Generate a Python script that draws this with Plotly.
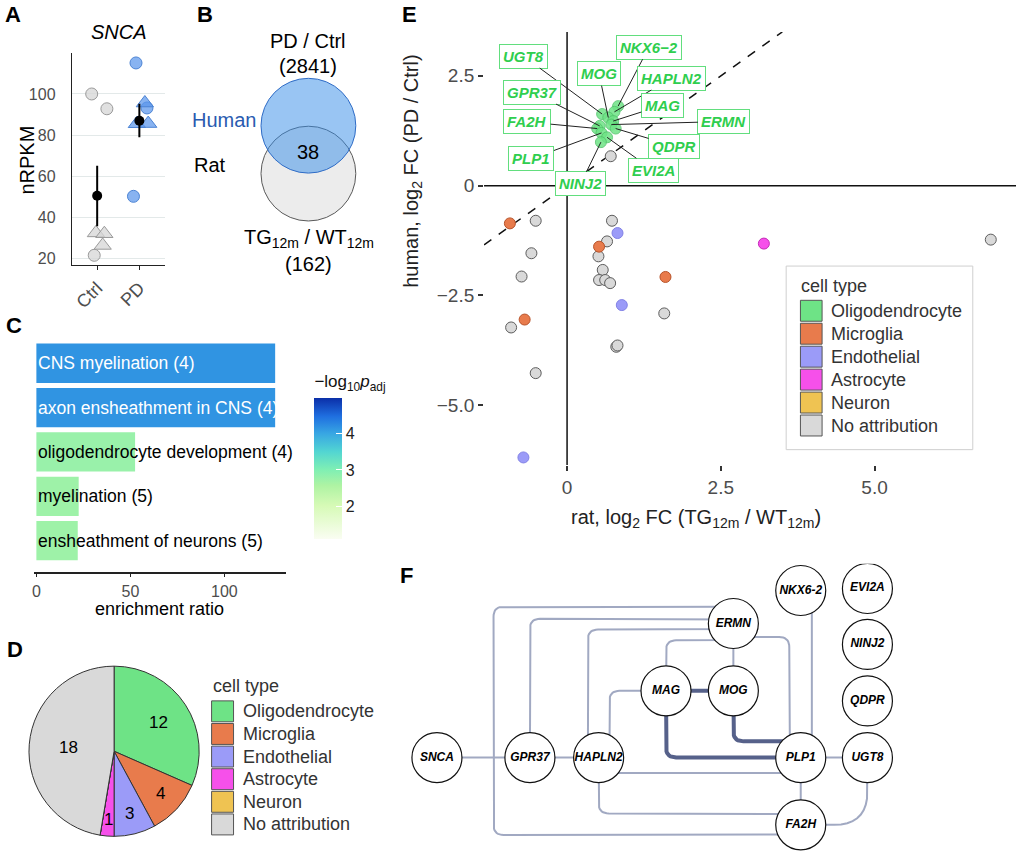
import numpy as np
import plotly.graph_objects as go

W, H = 1020, 857
FONT = "Liberation Sans, Arial, Helvetica, sans-serif"


def fx(p):
    return p / W


def fy(p):
    return 1 - p / H


# ====================== DATA ======================
# --- Panel A: SNCA expression (nRPKM)
a_groups = ["Ctrl", "PD"]
ctrl_circle_y = [100.0, 92.8, 21.5]
ctrl_circle_jit = [-0.13, 0.23, -0.07]
ctrl_tri_y = [32.4, 32.0, 26.3]
ctrl_tri_jit = [-0.03, 0.17, 0.13]
pd_circle_y = [115.1, 93.2, 50.2]
pd_circle_jit = [-0.08, 0.18, -0.14]
pd_tri_y = [95.6, 85.5, 85.6]
pd_tri_jit = [0.13, -0.06, 0.21]
a_mean = [50.5, 87.0]
a_lo = [35.6, 78.9]
a_hi = [65.1, 95.3]
a_ticks = [20, 40, 60, 80, 100]

# --- Panel B: Venn counts
venn_human = 2841
venn_rat = 162
venn_overlap = 38

# --- Panel C: GO enrichment
go_terms = ["CNS myelination", "axon ensheathment in CNS",
            "oligodendrocyte development", "myelination",
            "ensheathment of neurons"]
go_counts = [4, 4, 4, 5, 5]
go_ratio = [127.0, 127.0, 52.5, 22.5, 22.0]
go_neglogp = [4.15, 4.15, 2.75, 2.7, 2.7]
c_ticks = [0, 50, 100]
cbar_ticks = [2, 3, 4]

# --- Panel D / E: cell types
cell_types = ["Oligodendrocyte", "Microglia", "Endothelial", "Astrocyte",
              "Neuron", "No attribution"]
cell_colors = ["#6ee386", "#e87b4c", "#9b9bf8", "#f650ea", "#efc352", "#d9d9d9"]
cell_counts = [12, 4, 3, 1, 0, 18]
pie_label_r = [0.62, 0.74, 0.75, 0.81, 0.7, 0.54]   # radial label placement (layout)

# --- Panel E: log2 fold changes (rat x, human y)
oligo_genes = ["NKX6\u22122", "HAPLN2", "UGT8", "MOG", "MAG", "ERMN", "GPR37",
               "FA2H", "QDPR", "PLP1", "EVI2A", "NINJ2"]
oligo_x = [0.83, 0.77, 0.57, 0.67, 0.75, 0.72, 0.53, 0.49, 0.79, 0.56, 0.65, 0.55]
oligo_y = [1.81, 1.68, 1.63, 1.55, 1.47, 1.39, 1.36, 1.30, 1.30, 1.20, 1.10, 0.99]
micro_x = [-0.93, 0.52, 1.60, -0.69]
micro_y = [-0.86, -1.39, -2.08, -3.05]
endo_x = [0.82, 0.89, -0.71]
endo_y = [-1.08, -2.72, -6.19]
astro_x = [3.20]
astro_y = [-1.32]
noattr_x = [0.71, 0.73, -0.51, 0.65, -0.58, 0.51, -0.74, 0.58, 0.52, 0.62,
            0.70, 1.58, -0.91, 0.80, 0.82, -0.51, 6.89]
noattr_y = [0.67, -0.80, -0.80, -1.27, -1.54, -1.61, -2.07, -1.92, -2.15, -2.15,
            -2.22, -2.91, -3.23, -3.67, -3.64, -4.27, -1.23]
e_xticks = [0, 2.5, 5.0]
e_xticktext = ["0", "2.5", "5.0"]
e_yticks = [-5.0, -2.5, 0, 2.5]
e_yticktext = ["\u22125.0", "\u22122.5", "0", "2.5"]

# label placement (repelled label positions, layout only)
label_x = [1.33, 1.70, -0.71, 0.52, 1.55, 2.55, -0.57, -0.65, 1.74, -0.58, 1.40, 0.22]
label_y = [3.15, 2.45, 2.95, 2.55, 1.83, 1.46, 2.13, 1.45, 0.90, 0.61, 0.35, 0.04]

# --- Panel F: interaction network
node_names = ["SNCA", "GPR37", "HAPLN2", "MAG", "MOG", "ERMN", "PLP1", "UGT8",
              "FA2H", "NKX6-2", "EVI2A", "NINJ2", "QDPR"]
node_x = [0, 1.38, 2.40, 3.40, 4.40, 4.40, 5.40, 6.39, 5.40, 5.40, 6.39, 6.39, 6.39]
node_y = [0, 0, 0, 0.99, 0.99, 1.99, 0, 0, -1.0, 2.48, 2.51, 1.68, 0.84]
edges = [("SNCA", "GPR37", 0), ("GPR37", "HAPLN2", 0), ("PLP1", "UGT8", 0),
         ("MAG", "MOG", 1), ("ERMN", "MOG", 0), ("PLP1", "FA2H", 0),
         ("NKX6-2", "PLP1", 0), ("ERMN", "FA2H", 0), ("GPR37", "ERMN", 0),
         ("HAPLN2", "ERMN", 0), ("ERMN", "PLP1", 0), ("MAG", "ERMN", 0),
         ("HAPLN2", "MAG", 0), ("MAG", "PLP1", 1), ("MOG", "PLP1", 1),
         ("HAPLN2", "PLP1", 0), ("HAPLN2", "FA2H", 0), ("UGT8", "FA2H", 0)]
# orthogonal edge routing (layout)
edge_routes = {
    ("NKX6-2", "PLP1"): [(5.565, 2.48), (5.565, 0)],
    ("ERMN", "FA2H"): ["ERMN", (4.4, 2.24), (0.84, 2.24), (0.84, -1.15), (5.4, -1.15), "FA2H"],
    ("GPR37", "ERMN"): ["GPR37", (1.38, 2.06), (4.4, 2.06), "ERMN"],
    ("HAPLN2", "ERMN"): [(2.24, 0), (2.24, 1.90), (4.4, 1.90), "ERMN"],
    ("ERMN", "PLP1"): ["ERMN", (4.4, 1.79), (5.23, 1.79), (5.23, 0), "PLP1"],
    ("MAG", "ERMN"): ["MAG", (3.4, 1.74), (4.4, 1.74), "ERMN"],
    ("HAPLN2", "MAG"): [(2.56, 0), (2.56, 0.99), "MAG"],
    ("MAG", "PLP1"): ["MAG", (3.4, 0), "PLP1"],
    ("MOG", "PLP1"): ["MOG", (4.4, 0.24), (5.4, 0.24), "PLP1"],
    ("HAPLN2", "PLP1"): [(2.4, -0.23), (5.4, -0.23)],
    ("HAPLN2", "FA2H"): ["HAPLN2", (2.4, -0.83), (5.4, -0.83), "FA2H"],
    ("UGT8", "FA2H"): ["UGT8", (6.39, -1.0), "FA2H"],
}

# ====================== FIGURE ======================
fig = go.Figure()
shapes = []
annots = []


def ann(text, x, y, size, color="black", xanchor="center", yanchor="middle", angle=0, **kw):
    d = dict(text=text, x=fx(x), y=fy(y), xref="paper", yref="paper", showarrow=False,
             xanchor=xanchor, yanchor=yanchor, textangle=angle,
             font=dict(size=size, color=color, family=FONT))
    d.update(kw)
    annots.append(d)


# ---------------- Panel A ----------------
a_fill = ["rgba(214,214,214,0.75)", "rgba(90,150,235,0.72)"]
a_edge = ["#9a9a9a", "#4d84d4"]
sets = [(ctrl_circle_y, ctrl_circle_jit, ctrl_tri_y, ctrl_tri_jit),
        (pd_circle_y, pd_circle_jit, pd_tri_y, pd_tri_jit)]
for gi, (cy, cj, ty, tj) in enumerate(sets):
    base = gi + 1
    fig.add_trace(go.Scatter(x=[base + j for j in cj], y=cy, mode="markers",
                             marker=dict(symbol="circle", size=12, color=a_fill[gi],
                                         line=dict(color=a_edge[gi], width=1)),
                             xaxis="x", yaxis="y", showlegend=False, hoverinfo="skip"))
    fig.add_trace(go.Scatter(x=[base + j for j in tj], y=ty, mode="markers",
                             marker=dict(symbol="triangle-up", size=15, color=a_fill[gi],
                                         line=dict(color=a_edge[gi], width=1)),
                             xaxis="x", yaxis="y", showlegend=False, hoverinfo="skip"))
fig.add_trace(go.Scatter(x=[1, 2], y=a_mean, mode="markers",
                         marker=dict(color="black", size=10),
                         error_y=dict(type="data", symmetric=False,
                                      array=[h - m for h, m in zip(a_hi, a_mean)],
                                      arrayminus=[m - l for m, l in zip(a_mean, a_lo)],
                                      color="black", thickness=2, width=0),
                         xaxis="x", yaxis="y", showlegend=False, hoverinfo="skip"))
ann("<i>SNCA</i>", 117, 32, 20)
ann("nRPKM", 25, 160, 20, angle=-90)

# ---------------- Panel B ----------------
r = 47.5
for (cx, cy, fill, line) in [(307, 174, "#ececec", "#5a5a5a"),
                             (307, 126, "rgba(51,139,231,0.5)", "#2f6cc6")]:
    shapes.append(dict(type="circle", xref="paper", yref="paper",
                       x0=fx(cx - r), x1=fx(cx + r), y0=fy(cy + r), y1=fy(cy - r),
                       fillcolor=fill, line=dict(color=line, width=1)))
ann("PD / Ctrl", 307, 41, 20)
ann(f"({venn_human})", 307, 66, 20)
ann("Human", 222, 120, 20, color="#2a5bb0")
ann("Rat", 208, 165, 20)
ann(str(venn_overlap), 307, 152, 20)
ann("TG<sub>12m</sub> / WT<sub>12m</sub>", 308, 239, 20)
ann(f"({venn_rat})", 307, 265, 20)

# ---------------- Panel C ----------------
cscale = [[0.0, "#fafdf2"], [0.238, "#d6fab6"], [0.38, "#aef3a3"], [0.494, "#7eefb4"],
          [0.62, "#52d5d2"], [0.749, "#38a6e3"], [0.87, "#1f6fe0"], [1.0, "#0b2fa8"]]
n_terms = len(go_terms)
c_pos = [n_terms - i for i in range(n_terms)]
fig.add_trace(go.Bar(x=go_ratio, y=c_pos, orientation="h", width=0.886,
                     marker=dict(color=go_neglogp, colorscale=cscale, cmin=1.07, cmax=4.98,
                                 line=dict(width=0), showscale=True,
                                 colorbar=dict(x=fx(313), xanchor="left", xpad=0, ypad=0,
                                               y=fy(541), yanchor="bottom",
                                               len=168 / H, lenmode="fraction",
                                               thickness=28, thicknessmode="pixels",
                                               outlinewidth=0, tickvals=cbar_ticks,
                                               ticks="inside", ticklen=6, tickcolor="white",
                                               tickfont=dict(size=16, color="#222", family=FONT),
                                               title=dict(text="\u2212log<sub>10</sub><i>p</i><sub>adj</sub>",
                                                          side="top",
                                                          font=dict(size=17, color="#111", family=FONT)))),
                     xaxis="x2", yaxis="y2", showlegend=False, hoverinfo="skip"))
for term, cnt, pos, p in zip(go_terms, go_counts, c_pos, go_neglogp):
    annots.append(dict(text=f"{term} ({cnt})", x=0, y=pos, xref="x2", yref="y2",
                       xanchor="left", yanchor="middle", showarrow=False,
                       font=dict(size=17.5, color="white" if p > 3.5 else "black", family=FONT)))
ann("enrichment ratio", 158, 610, 18)

# ---------------- Panel D ----------------
pie_cx, pie_cy, pie_r = 112.3, 753, 85.3
fig.add_trace(go.Pie(values=cell_counts, labels=cell_types, sort=False,
                     direction="clockwise", rotation=0,
                     marker=dict(colors=cell_colors, line=dict(color="#333", width=1)),
                     textinfo="none",
                     domain=dict(x=[fx(pie_cx - pie_r), fx(pie_cx + pie_r)],
                                 y=[fy(pie_cy + pie_r), fy(pie_cy - pie_r)]),
                     showlegend=False, hoverinfo="skip"))
total = sum(cell_counts)
cum = 0
for cnt, rf in zip(cell_counts, pie_label_r):
    if cnt > 0:
        mid = (cum + cnt / 2) / total * 2 * np.pi
        ann(str(cnt), pie_cx + rf * pie_r * np.sin(mid), pie_cy - rf * pie_r * np.cos(mid), 17)
    cum += cnt


def cell_legend(x_key, y_title, y_first, pitch, key_w, key_h, x_text):
    ann("cell type", x_key - 1, y_title, 18, color="#333", xanchor="left")
    for i, (name, col) in enumerate(zip(cell_types, cell_colors)):
        yc = y_first + i * pitch
        shapes.append(dict(type="rect", xref="paper", yref="paper",
                           x0=fx(x_key), x1=fx(x_key + key_w),
                           y0=fy(yc + key_h / 2), y1=fy(yc - key_h / 2),
                           fillcolor=col, line=dict(color="#555", width=1)))
        ann(name, x_text - 1, yc, 18, color="#333", xanchor="left")


cell_legend(210, 688, 713, 22.67, 22, 21, 240)

# ---------------- Panel E ----------------
e_xr = [-1.35, 7.3]
e_yr = [-6.36, 3.5]
shapes.append(dict(type="line", xref="x3 domain", yref="y3", x0=0, x1=1, y0=0, y1=0,
                   line=dict(color="#111", width=1.5), layer="below"))
shapes.append(dict(type="line", xref="x3", yref="y3 domain", x0=0, x1=0, y0=0, y1=1,
                   line=dict(color="#111", width=1.5), layer="below"))
d_lo = max(e_xr[0], e_yr[0])
d_hi = min(e_xr[1], e_yr[1])
shapes.append(dict(type="line", xref="x3", yref="y3", x0=d_lo, x1=d_hi, y0=d_lo, y1=d_hi,
                   line=dict(color="#111", width=1.5, dash="dash"), layer="below"))

e_series = [(noattr_x, noattr_y, cell_colors[5], "#5d5d5d", 1.0),
            (micro_x, micro_y, cell_colors[1], "#b8532a", 1.0),
            (endo_x, endo_y, cell_colors[2], "#8282e6", 1.0),
            (astro_x, astro_y, cell_colors[3], "#c52bb8", 1.0),
            (oligo_x, oligo_y, cell_colors[0], "#52c46b", 0.85)]
for xs, ys, fc, lc, op in e_series:
    fig.add_trace(go.Scatter(x=xs, y=ys, mode="markers",
                             marker=dict(size=11, color=fc, opacity=op,
                                         line=dict(color=lc, width=1)),
                             xaxis="x3", yaxis="y3", showlegend=False, hoverinfo="skip"))
for g, gx, gy, lx, ly in zip(oligo_genes, oligo_x, oligo_y, label_x, label_y):
    annots.append(dict(text=f"<b><i>{g}</i></b>", x=gx, y=gy, xref="x3", yref="y3",
                       ax=lx, ay=ly, axref="x3", ayref="y3", showarrow=True,
                       arrowhead=0, arrowwidth=1, arrowcolor="#222", standoff=0,
                       bgcolor="white", bordercolor="#62de7e", borderwidth=1, borderpad=3,
                       font=dict(size=15, color="#2fce4e", family=FONT)))
ann("human, log<sub>2</sub> FC (PD / Ctrl)", 411, 172, 20, color="#222", angle=-90)
ann("rat, log<sub>2</sub> FC (TG<sub>12m</sub> / WT<sub>12m</sub>)", 695, 520, 20, color="#222")
shapes.append(dict(type="rect", xref="paper", yref="paper",
                   x0=fx(785.7), x1=fx(972.7), y0=fy(450.7), y1=fy(266.7),
                   fillcolor="white", line=dict(color="#cfcfcf", width=1)))
cell_legend(800, 287, 311.5, 23, 21.7, 21, 830)

# ---------------- Panel F ----------------
F_UNIT = 67.5
F_ORIGIN = (435.8, 759.3)
f_xr = [(400 - F_ORIGIN[0]) / F_UNIT, (1020 - F_ORIGIN[0]) / F_UNIT]
f_yr = [(F_ORIGIN[1] - 857) / F_UNIT, (F_ORIGIN[1] - 565) / F_UNIT]
node_pos = {n: (x, y) for n, x, y in zip(node_names, node_x, node_y)}


def rounded(points, rad):
    pts = [np.array(p, dtype=float) for p in points]
    out = [pts[0]]
    for i in range(1, len(pts) - 1):
        p0, p1, p2 = pts[i - 1], pts[i], pts[i + 1]
        l1 = np.linalg.norm(p1 - p0)
        l2 = np.linalg.norm(p2 - p1)
        if l1 < 1e-9 or l2 < 1e-9:
            out.append(p1)
            continue
        d1 = (p1 - p0) / l1
        d2 = (p2 - p1) / l2
        rr = min(rad, l1 / 2, l2 / 2)
        a = p1 - d1 * rr
        b = p1 + d2 * rr
        for t in np.linspace(0, 1, 10):
            out.append((1 - t) ** 2 * a + 2 * (1 - t) * t * p1 + t ** 2 * b)
    out.append(pts[-1])
    return [p[0] for p in out], [p[1] for p in out]


for a, b, strong in edges:
    route = edge_routes.get((a, b), [a, b])
    pts = [node_pos[p] if isinstance(p, str) else p for p in route]
    rad = 0.5 if (a, b) == ("UGT8", "FA2H") else 0.15
    ex, ey = rounded(pts, rad)
    fig.add_trace(go.Scatter(x=ex, y=ey, mode="lines",
                             line=dict(color="#56618a" if strong else "#a1a9c2",
                                       width=4 if strong else 2),
                             xaxis="x4", yaxis="y4", showlegend=False, hoverinfo="skip"))
fig.add_trace(go.Scatter(x=node_x, y=node_y, mode="markers+text",
                         text=[f"<b><i>{n}</i></b>" for n in node_names],
                         textposition="middle center",
                         textfont=dict(size=12, color="black", family=FONT),
                         marker=dict(size=50, color="white", line=dict(color="#111", width=1.2)),
                         xaxis="x4", yaxis="y4", showlegend=False, hoverinfo="skip"))

# ---------------- panel letters ----------------
for letter, x, y in [("A", 11, 15), ("B", 203, 15), ("C", 12, 326), ("D", 13, 651),
                     ("E", 408, 15), ("F", 405, 577)]:
    ann(f"<b>{letter}</b>", x, y, 22)

# ---------------- layout ----------------
tickfont = lambda s: dict(size=s, color="#4d4d4d", family=FONT)
fig.update_layout(
    width=W, height=H, margin=dict(l=0, r=0, t=0, b=0),
    paper_bgcolor="white", plot_bgcolor="white",
    font=dict(family=FONT, color="black"),
    showlegend=False,
    xaxis=dict(domain=[fx(70), fx(163)], range=[0.4, 2.6], tickvals=[1, 2], ticktext=a_groups,
               tickangle=-45, ticks="outside", ticklen=4, tickcolor="#222",
               showline=True, linecolor="#222", linewidth=1.2, showgrid=False,
               zeroline=False, tickfont=tickfont(18), anchor="y", fixedrange=True),
    yaxis=dict(domain=[fy(266), fy(53)], range=[16.6, 120], tickvals=a_ticks,
               showgrid=True, gridcolor="#e3e9e9", gridwidth=1, showline=True,
               linecolor="#222", linewidth=1.2, ticks="", ticklabelstandoff=12,
               zeroline=False, tickfont=tickfont(16), anchor="x"),
    xaxis2=dict(domain=[fx(32), fx(285)], range=[-1.3, 133], tickvals=c_ticks,
                ticks="outside", ticklen=4, tickcolor="#222", showline=True,
                linecolor="#222", linewidth=1.5, showgrid=False, zeroline=False,
                tickfont=tickfont(16), anchor="y2"),
    yaxis2=dict(domain=[fy(573), fy(333)], range=[0.3, 5.7], visible=False, anchor="x2"),
    xaxis3=dict(domain=[fx(483), fx(1016)], range=e_xr, tickvals=e_xticks,
                ticktext=e_xticktext, ticks="outside", ticklen=5, tickwidth=1.5,
                tickcolor="#333", showline=False, showgrid=False, zeroline=False,
                tickfont=tickfont(19), anchor="y3"),
    yaxis3=dict(domain=[fy(466), fy(32)], range=e_yr, tickvals=e_yticks,
                ticktext=e_yticktext, ticks="outside", ticklen=5, tickwidth=1.5,
                tickcolor="#333", showline=False, showgrid=False, zeroline=False,
                tickfont=tickfont(19), anchor="x3"),
    xaxis4=dict(domain=[fx(400), fx(1020)], range=f_xr, visible=False, anchor="y4"),
    yaxis4=dict(domain=[fy(857), fy(565)], range=f_yr, visible=False, anchor="x4"),
    shapes=shapes,
    annotations=annots,
)

fig.write_html("out.html", include_plotlyjs=True, config={"displayModeBar": False},
               post_script="document.body.style.margin='0px';")
